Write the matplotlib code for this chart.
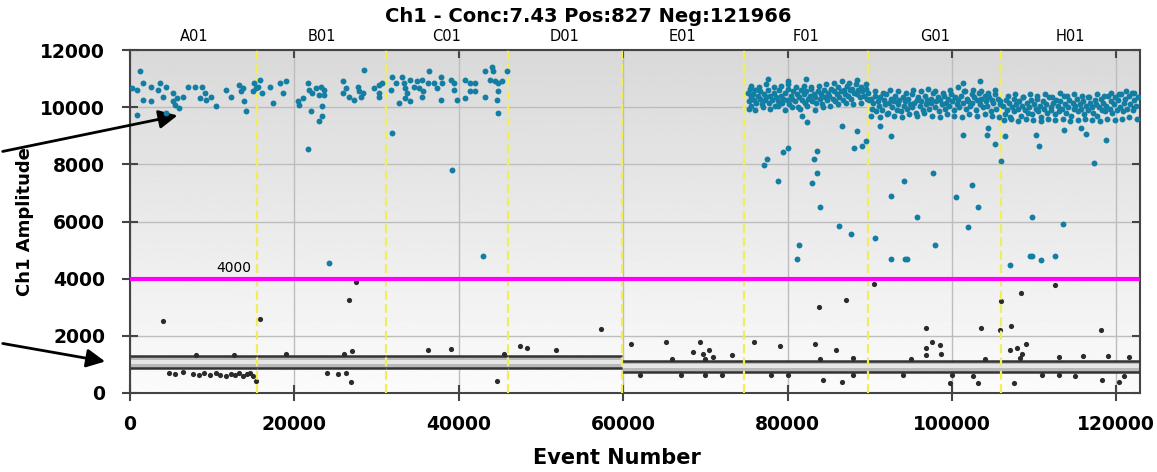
import numpy as np
import matplotlib
matplotlib.use("Agg")
import matplotlib.pyplot as plt

plt.rcParams['font.family'] = ['DejaVu Sans']

# well layout
wells = ["A01", "B01", "C01", "D01", "E01", "F01", "G01", "H01"]
well_edges = [0, 15500, 31100, 46000, 59800, 74700, 89800, 106000, 122900]
threshold = 4000

# negative droplet band per well (lower / upper edge of the dense cluster)
band_lo = [860, 860, 860, 860, 745, 745, 745, 745]
band_hi = [1280, 1280, 1280, 1280, 1130, 1130, 1130, 1130]

# sparse positive droplets (A01-C01 and outliers of F01-H01)
pos_x = [1200, 200, 800, 1600, 2600, 3600, 4400, 3400, 5200, 1600, 2600, 4000, 5700, 6500, 5200, 5500, 5900,
         7100, 7900, 8700, 8500, 9100, 9900, 9300, 10500, 11700, 12300, 13300, 13700, 13500, 13900, 14100,
         15100, 15300, 14900, 800, 4400,
         15800, 15600, 16000, 17000, 18200, 19000, 18600, 17400, 20400, 20600, 21000, 21600, 21800, 22200,
         22600, 23200, 23600, 23000, 23600, 23400, 22000, 23400, 23000, 25900, 26300, 25900, 26700, 27300,
         27700, 27900, 28300, 28100, 28500, 29700, 30300, 30700, 30300, 30300, 21600, 24200,
         31900, 31700, 32300, 32700, 33100, 33300, 33500, 33700, 33500, 34100, 34500, 34100, 34900, 35100,
         35500, 35700, 35500, 36400, 36200, 37000, 37400, 37800, 38000, 37800, 39000, 39400, 39400, 39800,
         40800, 40800, 41400, 41400, 42000, 42000, 43200, 43200, 44000, 44200, 43800, 44400, 44800, 45200,
         44800, 44600, 44800, 45900, 31900, 39200, 42900,
         77600, 80100, 82200, 101400, 103400, 82400, 81700, 86600, 88400, 91200, 92600, 88100, 89100, 89600,
         80100, 79500, 77500, 77100, 83600, 83200, 83600, 78900, 83000, 83900, 86300, 87700, 101300, 104300,
         104400, 105300, 106500, 106000, 110200, 110600, 113600, 115700, 116300, 118700, 117300, 97700,
         94200, 92600, 100500, 102500, 103200, 95700, 101900, 109700, 113500, 81400, 81100, 90700, 98000,
         92600, 94300, 94500, 107100, 109500, 109800, 110800, 112500]
pos_y = [11250, 10670, 10610, 10840, 10720, 10840, 10720, 10610, 10490, 10260, 10200, 10370, 10310, 10370,
         10200, 10090, 9970, 10720, 10720, 10720, 10310, 10490, 10370, 10260, 10030, 10610, 10370, 10780,
         10670, 10550, 10200, 9850, 10840, 10670, 10550, 9740, 9800,
         10960, 10720, 10490, 10720, 10840, 10900, 10490, 10140, 10200, 10090, 10310, 10840, 10610, 10490,
         10670, 10720, 10610, 10440, 10440, 10030, 9850, 9680, 9500, 10900, 10670, 10490, 10370, 10260,
         10720, 10550, 10490, 10370, 11300, 10670, 10780, 10840, 10490, 10370, 8520, 4540,
         11070, 10610, 10840, 10140, 11070, 10840, 10670, 10490, 10310, 10960, 10720, 10200, 10900, 10670,
         10960, 10550, 10370, 11250, 10840, 10840, 10670, 11070, 10840, 10260, 10960, 10840, 10610, 10260,
         10960, 10310, 10840, 10550, 10840, 10550, 10370, 11250, 11420, 11250, 10960, 10900, 10840, 10900,
         10550, 10260, 9800, 11250, 9100, 7800, 4780,
         10980, 10900, 10980, 10840, 10930, 9470, 9700, 9330, 9150, 9330, 8980, 8570, 8650, 8800,
         8570, 8420, 8190, 7960, 8460, 8170, 7700, 7410, 7330, 6520, 5860, 5550, 9040, 9040,
         9270, 8720, 8980, 8110, 9040, 8630, 9210, 9270, 9070, 8860, 8030, 7700,
         7410, 6910, 6860, 7260, 6520, 6170, 5800, 6170, 5900, 5190, 4680, 5440, 5190,
         4680, 4680, 4680, 4480, 4780, 4780, 4640, 4780]

# dense positive clusters
f01_x = [75200, 75300, 75400, 75500, 75600, 75800, 75900, 76100, 76200, 76400,
         76600, 76700, 76900, 77100, 77200, 77400, 77600, 77800, 77900, 78100,
         78300, 78500, 78600, 78800, 79000, 79200, 79300, 79500, 79700, 79900,
         80000, 80200, 80400, 80600, 80700, 80900, 81100, 81300, 81400, 81600,
         81800, 82000, 82100, 82300, 82500, 82700, 82800, 83000, 83200, 83400,
         83500, 83700, 83900, 84100, 84200, 84400, 84600, 84800, 84900, 85100,
         85300, 85500, 85600, 85800, 86000, 86200, 86300, 86500, 86700, 86900,
         87000, 87200, 87400, 87600, 87700, 87900, 88100, 88300, 88400, 88600,
         88800, 89000, 89100, 89300, 89500, 89700, 89800, 89900,
         75300, 75600, 76000, 76500, 77000, 77400, 77900, 78300, 78800, 79200,
         79700, 80100, 80600, 81000, 81500, 82000, 82400, 82900, 83300, 83800,
         84300, 84700, 85200, 85700, 86100, 86600, 87100, 87500, 88000, 88500,
         89000, 89500]
f01_y = [10500, 10200, 10650, 10350, 10050, 10450, 10250, 10600, 10150, 10400,
         10300, 10550, 10100, 10450, 10250, 10350, 10600, 10150, 10400, 10250,
         10500, 10050, 10350, 10200, 10600, 10400, 10150, 10300, 10500, 10250,
         10650, 10100, 10400, 10300, 10550, 10200, 10450, 10000, 10350, 10600,
         10250, 10450, 10150, 10550, 10300, 10400, 10700, 10200, 10450, 10350,
         10150, 10550, 10300, 10450, 10100, 10600, 10350, 10250, 10500, 10400,
         10650, 10300, 10550, 10200, 10450, 10700, 10350, 10550, 10250, 10600,
         10450, 10750, 10400, 10600, 10300, 10650, 10500, 10800, 10450, 10600,
         10350, 10700, 10550, 10400, 10650, 10300, 10500, 10250,
         9950, 10750, 9900, 10700, 10000, 10800, 9950, 10700, 10050, 10750,
         9900, 10800, 10000, 10700, 9950, 10750, 10050, 10650, 9900, 10750,
         10000, 10800, 10050, 10850, 10100, 10900, 10150, 10850, 10100, 10950,
         10150, 10800]
g01_x = [90100, 90300, 90400, 90600, 90800, 91000, 91100, 91300, 91500, 91700,
         91900, 92000, 92200, 92400, 92600, 92700, 92900, 93100, 93300, 93500,
         93600, 93800, 94000, 94200, 94300, 94500, 94700, 94900, 95100, 95200,
         95400, 95600, 95800, 95900, 96100, 96300, 96500, 96700, 96800, 97000,
         97200, 97400, 97500, 97700, 97900, 98100, 98300, 98400, 98600, 98800,
         99000, 99200, 99300, 99500, 99700, 99900, 100000, 100200, 100400, 100600,
         100800, 100900, 101100, 101300, 101500, 101700, 101800, 102000, 102200, 102400,
         102500, 102700, 102900, 103100, 103300, 103400, 103600, 103800, 104000, 104200,
         104300, 104500, 104700, 104900, 105000, 105200, 105400, 105600, 105800, 105900,
         90200, 90700, 91200, 91600, 92100, 92500, 93000, 93400, 93900, 94400,
         94800, 95300, 95700, 96200, 96600, 97100, 97600, 98000, 98500, 98900,
         99400, 99800, 100300, 100700, 101200, 101600, 102100, 102600, 103000, 103500,
         104000, 104400, 104900, 105300, 105700]
g01_y = [10300, 9950, 10150, 10400, 9850, 10200, 10050, 10350, 9900, 10250,
         10100, 10450, 9800, 10150, 10300, 10000, 10200, 10400, 9900, 10100,
         10250, 9850, 10350, 10050, 10200, 9950, 10300, 10100, 10450, 10000,
         10150, 9800, 10250, 10350, 10050, 10200, 9900, 10400, 10100, 10250,
         9950, 10300, 10150, 10500, 10000, 10200, 10350, 9850, 10250, 10100,
         10400, 9950, 10150, 10300, 10050, 10450, 10200, 9900, 10350, 10100,
         10250, 10000, 10400, 10150, 10550, 9950, 10300, 10200, 10050, 10450,
         10150, 10350, 9900, 10250, 10500, 10100, 10300, 10000, 10400, 10200,
         10050, 10350, 9850, 10250, 10150, 10450, 9950, 10300, 10100, 10200,
         9700, 10550, 9650, 10500, 9750, 10600, 9700, 10550, 9650, 10500,
         9750, 10600, 9700, 10550, 9800, 10650, 9700, 10550, 9650, 10500,
         9750, 10600, 9700, 10700, 9650, 10550, 9750, 10600, 9700, 10550,
         9750, 10500, 9700, 10600, 9650]
h01_x = [106200, 106400, 106600, 106700, 106900, 107100, 107300, 107500, 107600, 107800,
         108000, 108200, 108400, 108500, 108700, 108900, 109100, 109300, 109400, 109600,
         109800, 110000, 110200, 110300, 110500, 110700, 110900, 111100, 111200, 111400,
         111600, 111800, 112000, 112100, 112300, 112500, 112700, 112900, 113000, 113200,
         113400, 113600, 113800, 113900, 114100, 114300, 114500, 114700, 114800, 115000,
         115200, 115400, 115600, 115700, 115900, 116100, 116300, 116500, 116600, 116800,
         117000, 117200, 117400, 117500, 117700, 117900, 118100, 118300, 118400, 118600,
         118800, 119000, 119200, 119300, 119500, 119700, 119900, 120100, 120200, 120400,
         120600, 120800, 121000, 121100, 121300, 121500, 121700, 121900, 122000, 122200,
         122400, 122600,
         106300, 106800, 107200, 107700, 108100, 108600, 109000, 109500, 109900, 110400,
         110800, 111300, 111700, 112200, 112600, 113100, 113500, 114000, 114400, 114900,
         115300, 115800, 116200, 116700, 117100, 117600, 118000, 118500, 118900, 119400,
         119800, 120300, 120700, 121200, 121600, 122100, 122500]
h01_y = [10050, 9750, 10250, 9900, 10150, 9650, 10000, 10300, 9850, 10100,
         9950, 10200, 9700, 10050, 10350, 9900, 10150, 9800, 10000, 10250,
         9750, 10100, 9950, 10300, 9850, 10050, 9650, 10200, 9950, 10100,
         9800, 10350, 10000, 9900, 10150, 9750, 10250, 10050, 9850, 10200,
         9950, 10400, 10100, 9800, 10000, 10250, 9700, 10150, 9950, 10050,
         10300, 9850, 10100, 9950, 10200, 9750, 10050, 10350, 9900, 10150,
         10000, 9800, 10250, 10100, 9700, 10000, 10300, 9900, 10150, 9850,
         10050, 10400, 9950, 10200, 9800, 10100, 10350, 9900, 10250, 10000,
         10450, 9850, 10150, 10300, 9950, 10400, 10100, 10500, 9900, 10250,
         10050, 10350,
         9550, 10400, 9600, 10450, 9500, 10350, 9600, 10450, 9550, 10400,
         9500, 10450, 9600, 10350, 9550, 10500, 9600, 10400, 9500, 10450,
         9550, 10400, 9600, 10350, 9550, 10450, 9500, 10400, 9600, 10500,
         9550, 10450, 9600, 10550, 9650, 10500, 9600]

# negative droplets outside the dense band
neg_x = [4800, 5500, 6500, 7600, 8400, 9000, 9700, 10400, 11000, 11700, 12300, 12800, 13300, 13800, 14200,
         14600, 15000, 15300, 24000, 25300, 26300,
         4000, 15800, 27500, 26700, 26900, 57300, 44700, 36300, 39000, 47400, 48300, 51800,
         61000, 65200, 69300, 68500, 69700, 70400, 70900, 73300, 75900, 79100, 83400, 85900, 83800, 87100,
         90500, 96900, 97600, 96900, 96900, 98600, 98700, 103500, 105900, 107200, 106000, 108400, 112500,
         107100, 107900, 109000, 108300, 108500, 118200,
         84300, 86600, 99800, 103200, 107600, 118300, 120300, 102600,
         8000, 12600, 19000, 26000, 27000, 45500, 66000, 70000, 84000, 88000, 95000, 104000, 113000, 116000,
         119000, 121500,
         62000, 67000, 70000, 72000, 78000, 80000, 88000, 94000, 100000, 111000, 113000, 115000, 121000]
neg_y = [700, 650, 720, 680, 640, 700, 620, 690, 640, 600, 680, 620, 700, 600, 650,
         700, 580, 420, 700, 660, 700,
         2510, 2580, 3900, 3240, 380, 2230, 420, 1500, 1550, 1650, 1560, 1500,
         1720, 1780, 1780, 1430, 1370, 1490, 1250, 1320, 1780, 1660, 1720, 1490, 3000, 3260,
         3810, 2290, 1800, 1560, 1320, 1680, 1370, 2290, 2200, 2330, 3210, 3510, 3770,
         1490, 1590, 1730, 1230, 1370, 2200,
         440, 400, 340, 340, 340, 440, 400, 580,
         1340, 1330, 1370, 1380, 1460, 1380, 1180, 1200, 1200, 1220, 1180, 1200, 1250, 1280,
         1300, 1250,
         640, 640, 620, 620, 640, 640, 620, 640, 640, 620, 620, 610, 600]

fig = plt.figure(figsize=(11.57, 4.72), dpi=100)
ax = fig.add_axes([0.1124, 0.1674, 0.873, 0.7266])
xmax, ymax = well_edges[-1], 12000

# grey gradient background
grad = np.linspace(0.85, 0.985, 256).reshape(-1, 1)
ax.imshow(grad, cmap="gray", vmin=0, vmax=1, aspect="auto", origin="upper",
          extent=[0, xmax, 0, ymax], zorder=0)

ax.set_xlim(0, xmax)
ax.set_ylim(0, ymax)
ax.set_xticks(np.arange(0, 120001, 20000))
ax.set_yticks(np.arange(0, 12001, 2000))
ax.grid(True, color="#bdbdbd", lw=1, zorder=1)
ax.set_axisbelow(True)

# negative band
for i in range(len(wells)):
    a, b = well_edges[i], well_edges[i + 1]
    lo, hi = band_lo[i], band_hi[i]
    mid = (lo + hi) / 2
    ax.fill_between([a, b], [lo, lo], [hi, hi], color="#b9b9b9", lw=0, zorder=2)
    ax.fill_between([a, b], [mid - 70, mid - 70], [mid + 70, mid + 70], color="#e6e6e6", lw=0, zorder=2)
    ax.hlines([lo, hi], a, b, color="#333333", lw=1.8, zorder=3)

ax.scatter(neg_x, neg_y, s=14, color="#2b2b2b", lw=0, zorder=4)

# well separators
for e in well_edges[1:-1]:
    ax.axvline(e, color="#f2ee5a", lw=1.6, ls=(0, (4, 2)), zorder=5)

ax.scatter(pos_x, pos_y, s=18, color="#137ea3", lw=0, zorder=6)
for wx, wy in [(f01_x, f01_y), (g01_x, g01_y), (h01_x, h01_y)]:
    ax.scatter(wx, wy, s=18, color="#137ea3", lw=0, zorder=6)

# threshold
ax.axhline(threshold, color="#ff00ff", lw=3, zorder=7)
ax.text(12600, threshold + 120, str(threshold), ha="center", va="bottom", fontsize=10, zorder=8)

# well labels on top
for i, w in enumerate(wells):
    ax.text((well_edges[i] + well_edges[i + 1]) / 2, ymax + 200, w, ha="center", va="bottom",
            fontsize=10.5, clip_on=False)

for s in ax.spines.values():
    s.set_color("#444444")
    s.set_linewidth(1.5)
ax.tick_params(axis="both", which="major", direction="inout", length=12, width=1.5,
               color="#444444", labelsize=13.5)
ax.tick_params(axis="y", pad=12)
ax.tick_params(axis="x", pad=10)
ax.tick_params(top=True, right=True)
for lab in ax.get_xticklabels() + ax.get_yticklabels():
    lab.set_fontweight("bold")
for t in ax.xaxis.get_major_ticks():
    t.tick2line.set_markersize(6)
    t.tick2line.set_marker(3)
for t in ax.yaxis.get_major_ticks():
    t.tick2line.set_markersize(6)
    t.tick2line.set_marker(0)

fig.text(0.508, 0.966, "Ch1 - Conc:7.43 Pos:827 Neg:121966", ha="center", va="center",
         fontsize=14, fontweight="bold")
fig.text(0.533, 0.03, "Event Number", ha="center", va="center", fontsize=15, fontweight="bold")
fig.text(0.022, 0.53, "Ch1 Amplitude", ha="center", va="center", rotation=90, fontsize=13,
         fontweight="bold")

# pointer arrows
arr = dict(arrowstyle="-|>", color="k", lw=2, mutation_scale=28)
ax.annotate("", xy=(6100, 9730), xycoords="data", xytext=(0.0, 1 - 152 / 472),
            textcoords="figure fraction", arrowprops=arr, annotation_clip=False)
ax.annotate("", xy=(-2700, 1085), xycoords="data", xytext=(0.0, 1 - 343 / 472),
            textcoords="figure fraction", arrowprops=arr, annotation_clip=False)

fig.savefig("out.png", dpi=100)
